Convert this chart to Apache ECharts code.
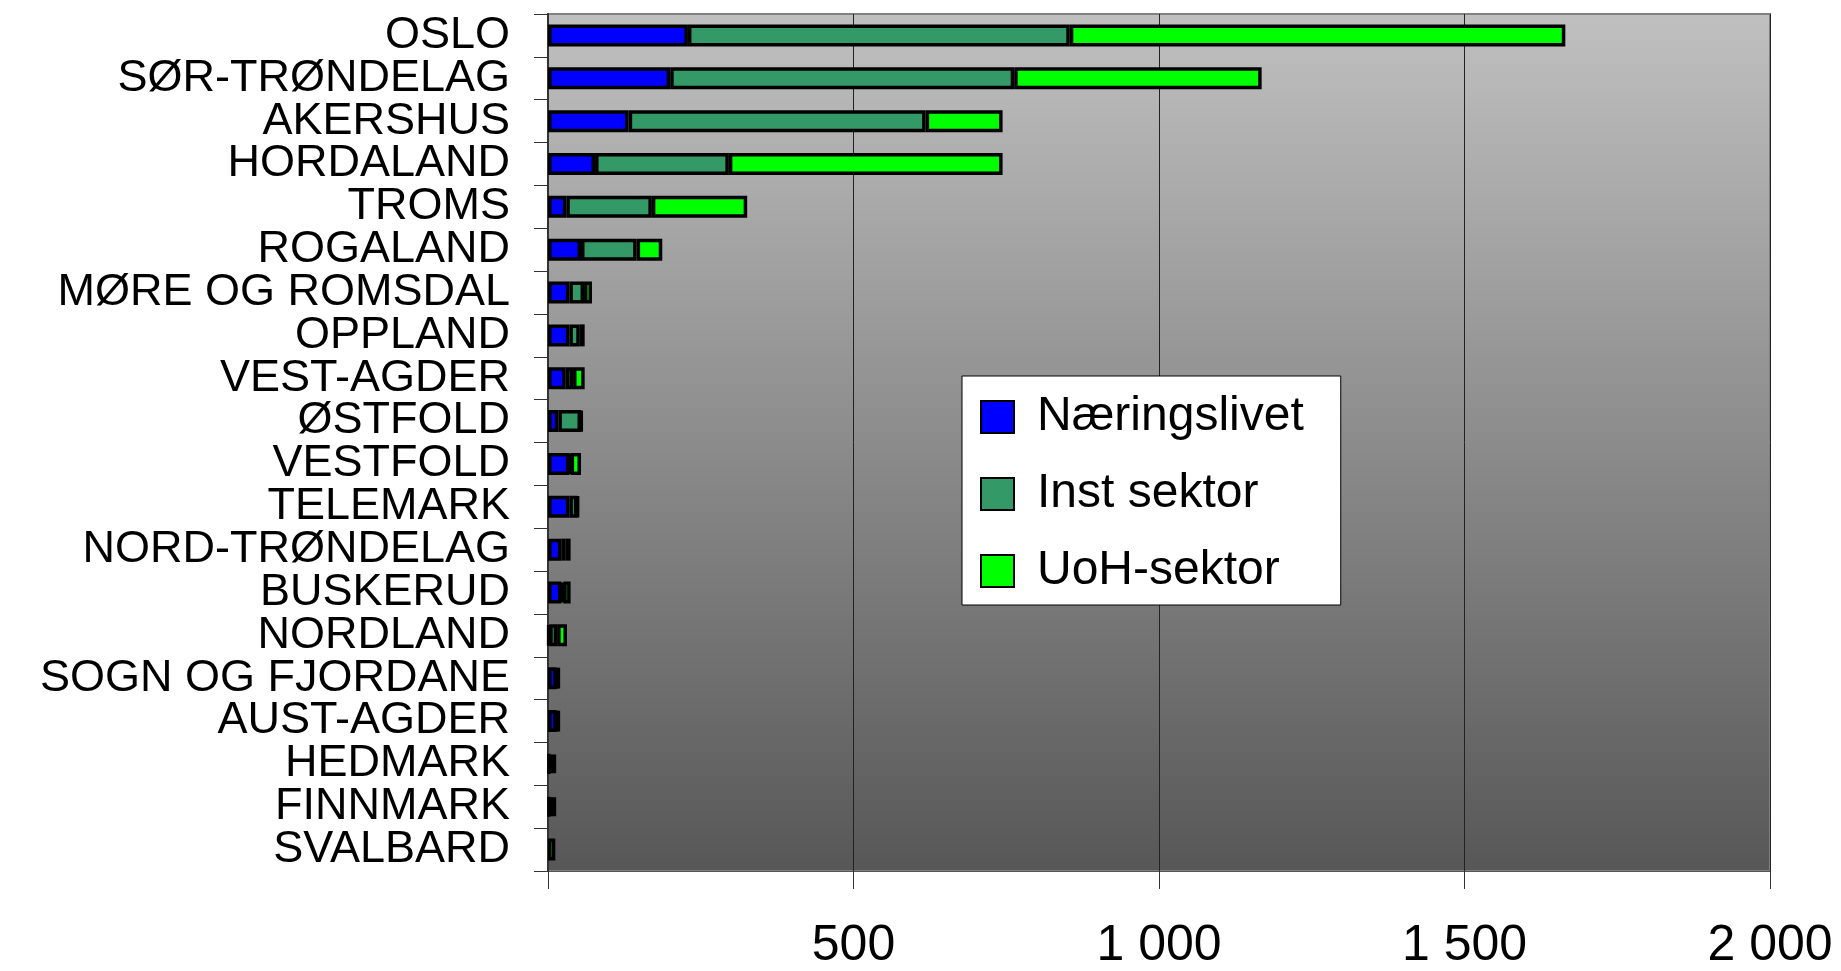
<!DOCTYPE html>
<html>
<head>
<meta charset="utf-8">
<script src="https://cdn.jsdelivr.net/npm/echarts@6/dist/echarts.min.js"></script>
<style>
html,body{margin:0;padding:0;background:#fff;}
#main{width:1841px;height:971px;}
</style>
</head>
<body>
<div id="main"></div>
<script>
var fylker = ['OSLO', 'SØR-TRØNDELAG', 'AKERSHUS', 'HORDALAND', 'TROMS', 'ROGALAND', 'MØRE OG ROMSDAL', 'OPPLAND', 'VEST-AGDER', 'ØSTFOLD',
	'VESTFOLD', 'TELEMARK', 'NORD-TRØNDELAG', 'BUSKERUD', 'NORDLAND', 'SOGN OG FJORDANE', 'AUST-AGDER', 'HEDMARK', 'FINNMARK', 'SVALBARD'];
// '-' = ingen stolpe for denne sektoren
var naeringslivet = [229, 200, 132, 77, 30, 54, 35, 35, 29, 17, 35, 35, 22, 22, 2, 14, 14, 3, 3, '-'];
var instSektor = [625, 563, 486, 219, 140, 91, 24, 17, 12, 37, 2, 13, 7, 3, 13, 2, 2, 5, 5, '-'];
var uohSektor = [811, 405, 126, 448, 156, 42, 13, 8, 19, 1, 17, 1, 8, 12, 16, 2, 2, 5, 5, 12];
var xTicks = [0, 500, 1000, 1500, 2000];

var fontName = '"Liberation Sans", Arial, sans-serif';

function lagSerie(navn, verdier, farge) {
	return {
		name: navn,
		type: 'bar',
		stack: 'sum',
		barWidth: 22,
		data: verdier,
		itemStyle: {
			color: farge,
			borderColor: '#000',
			borderWidth: 3.5
		}
	};
}

var option = {
	animation: false,
	backgroundColor: '#fff',
	textStyle: { fontFamily: fontName, color: '#000' },
	grid: {
		left: 548,
		right: 71,
		top: 14,
		bottom: 96,
		show: true,
		borderColor: '#808080',
		borderWidth: 2,
		backgroundColor: new echarts.graphic.LinearGradient(0, 0, 0, 1, [
			{ offset: 0, color: '#c0c0c0' },
			{ offset: 1, color: '#575757' }
		])
	},
	legend: {
		orient: 'vertical',
		left: 962,
		top: 376,
		padding: [17, 37, 10, 18],
		itemGap: 29,
		itemWidth: 33,
		itemHeight: 32,
		icon: 'rect',
		backgroundColor: '#fff',
		borderColor: '#000',
		borderWidth: 1,
		textStyle: { fontSize: 48, color: '#000', fontFamily: fontName, padding: [0, 0, 0, 18] },
		data: ['Næringslivet', 'Inst sektor', 'UoH-sektor']
	},
	xAxis: {
		type: 'value',
		min: xTicks[0],
		max: xTicks[xTicks.length - 1],
		interval: xTicks[1] - xTicks[0],
		axisLine: { show: true, lineStyle: { color: '#555', width: 1 } },
		axisTick: { show: true, length: 18, lineStyle: { color: '#333' } },
		splitLine: { show: true, lineStyle: { color: '#222', width: 1 } },
		axisLabel: {
			margin: 50,
			fontSize: 50,
			color: '#000',
			fontFamily: fontName,
			formatter: function (v) {
				if (v === 0) return '';
				return String(v).replace(/\B(?=(\d{3})+(?!\d))/g, ' ');
			}
		}
	},
	yAxis: {
		type: 'category',
		inverse: true,
		data: fylker,
		axisLine: { show: true, lineStyle: { color: '#333', width: 2 } },
		axisTick: { show: true, length: 14, interval: 0, lineStyle: { color: '#333' } },
		axisLabel: {
			interval: 0,
			margin: 38,
			fontSize: 45,
			color: '#000',
			fontFamily: fontName
		}
	},
	series: [
		lagSerie('Næringslivet', naeringslivet, '#0000ff'),
		lagSerie('Inst sektor', instSektor, '#339966'),
		lagSerie('UoH-sektor', uohSektor, '#00ff00')
	]
};

var myChart = echarts.init(document.getElementById('main'));
myChart.setOption(option);
</script>
</body>
</html>
